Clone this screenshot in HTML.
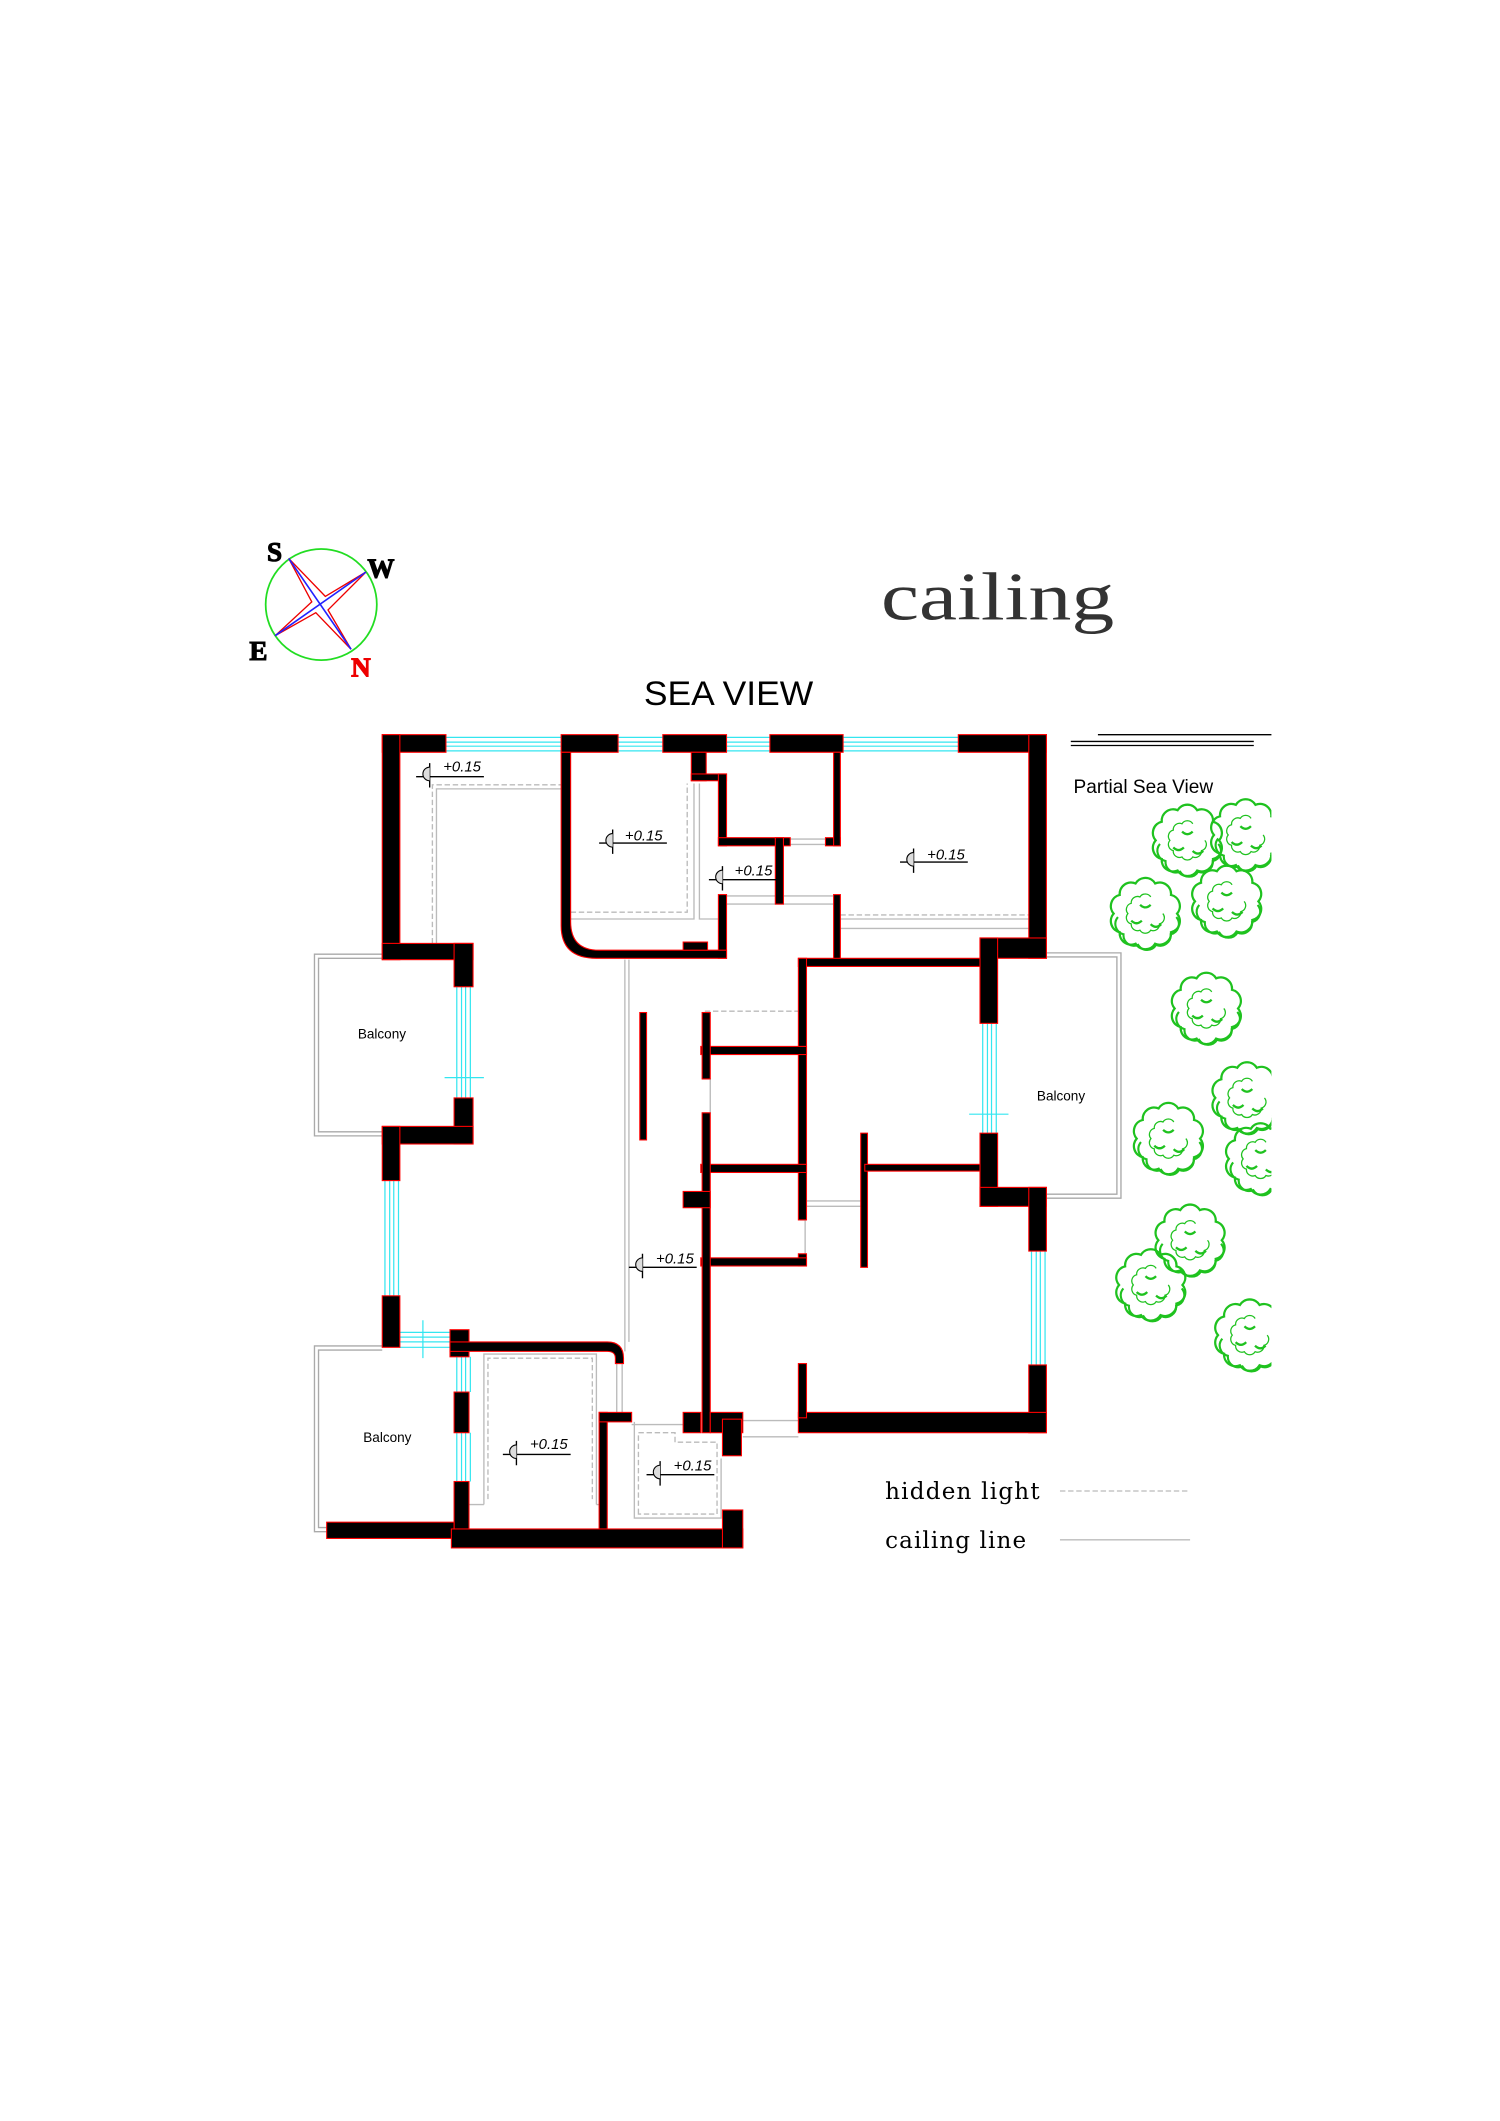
<!DOCTYPE html>
<html><head><meta charset="utf-8"><style>html,body{margin:0;padding:0;background:#fff}svg{display:block}</style></head>
<body>
<svg width="1500" height="2121" viewBox="0 0 1100 1555.4" preserveAspectRatio="none" xmlns="http://www.w3.org/2000/svg">
<defs>
<g id="tree" fill="none" stroke="#1fc21f" stroke-width="1.3">
<path d="M18,0 A6.5,6.5 0 0 1 14.56,10.58 A6.5,6.5 0 0 1 5.56,17.12 A6.5,6.5 0 0 1 -5.56,17.12 A6.5,6.5 0 0 1 -14.56,10.58 A6.5,6.5 0 0 1 -18,0 A6.5,6.5 0 0 1 -14.56,-10.58 A6.5,6.5 0 0 1 -5.56,-17.12 A6.5,6.5 0 0 1 5.56,-17.12 A6.5,6.5 0 0 1 14.56,-10.58 A6.5,6.5 0 0 1 18,0Z"/>
<path transform="translate(1,2) scale(0.92)" d="M18,0 A6.5,6.5 0 0 1 14.56,10.58 A6.5,6.5 0 0 1 5.56,17.12 A6.5,6.5 0 0 1 -5.56,17.12 A6.5,6.5 0 0 1 -14.56,10.58 A6.5,6.5 0 0 1 -18,0"/>
<path transform="scale(0.55)" d="M18,0 A6.5,6.5 0 0 1 14.56,10.58 A6.5,6.5 0 0 1 5.56,17.12 A6.5,6.5 0 0 1 -5.56,17.12 A6.5,6.5 0 0 1 -14.56,10.58 A6.5,6.5 0 0 1 -18,0 A6.5,6.5 0 0 1 -14.56,-10.58 A6.5,6.5 0 0 1 -5.56,-17.12 A6.5,6.5 0 0 1 5.56,-17.12"/>
<path d="M-8,4 q3,3 6,0 M3,6 q3,3 6,0 M-3,-5 q3,3 6,0"/>
</g>
<g id="lvl">
<path d="M0,-8 L0,10 M-10,2 L40,2" stroke="#000" stroke-width="1"/>
<path d="M0,-5 A5,5 0 0 0 0,5" stroke="#000" fill="#ddd" stroke-width="0.8"/>
</g>
<clipPath id="tc"><rect x="780" y="580" width="158" height="440"/></clipPath>
</defs>
<g transform="scale(0.994)">
<!-- compass -->
<ellipse cx="237" cy="446" rx="41" ry="41" fill="none" stroke="#22dd22" stroke-width="1.3"/>
<path d="M213,412 L240,440 L270,422 L242,450 L259,479 L233,452 L203,469 L230,444 Z" fill="none" stroke="#e00" stroke-width="1"/>
<path d="M213,412 L259,479 M270,422 L203,469" stroke="#22f" stroke-width="1.2"/>
<g font-family="Liberation Serif, serif" font-weight="bold" font-size="20" stroke-width="0.8">
<text x="197" y="414" fill="#000" stroke="#000">S</text>
<text x="271" y="426" fill="#000" stroke="#000">W</text>
<text x="184" y="487" fill="#000" stroke="#000">E</text>
<text x="259" y="499" fill="#e00" stroke="#e00">N</text>
</g>

<text x="650" y="457" font-family="Liberation Serif, serif" font-size="50" textLength="172" lengthAdjust="spacingAndGlyphs" fill="#333">cailing</text>
<text x="475" y="520" font-family="Liberation Sans, sans-serif" font-size="25" textLength="125" lengthAdjust="spacingAndGlyphs">SEA VIEW</text>

<path d="M810,542 L938,542 M790,547 L925,547 M790,550 L925,550" stroke="#000" stroke-width="1"/>
<text x="792" y="585" font-family="Liberation Sans, sans-serif" font-size="14" textLength="103" lengthAdjust="spacingAndGlyphs">Partial Sea View</text>

<!-- trees -->
<g clip-path="url(#tc)">
<use href="#tree" transform="translate(876,620) scale(1.3)"/>
<use href="#tree" transform="translate(919,616) scale(1.3)"/>
<use href="#tree" transform="translate(845,674) scale(1.3)"/>
<use href="#tree" transform="translate(905,665) scale(1.3)"/>
<use href="#tree" transform="translate(890,744) scale(1.3)"/>
<use href="#tree" transform="translate(920,810) scale(1.3)"/>
<use href="#tree" transform="translate(862,840) scale(1.3)"/>
<use href="#tree" transform="translate(930,855) scale(1.3)"/>
<use href="#tree" transform="translate(878,915) scale(1.3)"/>
<use href="#tree" transform="translate(849,948) scale(1.3)"/>
<use href="#tree" transform="translate(922,985) scale(1.3)"/>
</g>

<!-- balconies -->
<g fill="none" stroke="#aaa" stroke-width="1">
<path d="M282,704 L232,704 L232,838 L282,838 M282,707 L235,707 L235,835 L282,835"/>
<path d="M282,993 L232,993 L232,1130 L241,1130 M282,996 L235,996 L235,1127 L241,1127"/>
<path d="M772,703 L827,703 L827,884 L772,884 M772,706 L824,706 L824,881 L772,881"/>
</g>
<g font-family="Liberation Sans, sans-serif" font-size="10">
<text x="264" y="766">Balcony</text>
<text x="268" y="1064">Balcony</text>
<text x="765" y="812">Balcony</text>
</g>

<!-- ceiling gray lines -->
<g fill="none" stroke="#bbb" stroke-width="1">
<path d="M322,696 L322,582 L414,582" />
<path d="M319,696 L319,579 L414,579" stroke-dasharray="4,2"/>
<path d="M421,673 L507,673 L507,578" stroke-dasharray="4,2"/>
<path d="M421,678 L512,678 L512,578 M516,578 L516,678 L530,678"/>
<path d="M620,678 L759,678 M620,685 L759,685"/>
<path d="M620,675 L759,675" stroke-dasharray="4,2"/>
<path d="M536,661 L615,661 M536,667 L615,667 M583,619 L609,619 M583,623 L609,623"/>
<path d="M461,708 L461,997 M464,708 L464,990"/>
<path d="M520,746 L589,746" stroke-dasharray="4,2"/>
<path d="M518,796 L524,796 L524,821 L518,821"/>
<path d="M594,886 L635,886 M594,890 L635,890 M590,900 L594,900 L594,925"/>
<path d="M360,1106 L360,1002 L437,1002 L437,1106" stroke-dasharray="4,2"/>
<path d="M357,1110 L357,999 L440,999 L440,1110 M346,1110 L357,1110 M440,1110 L442,1110"/>
<path d="M455,1005 L455,1042 M459,1005 L459,1042"/>
<path d="M468,1049 L468,1120 L532,1120 L532,1076 M466,1051 L504,1051"/>
<path d="M471,1117 L471,1057 L498,1057 L498,1064 L529,1064 L529,1117 Z" stroke-dasharray="4,2"/>
<path d="M548,1048 L589,1048 M548,1060 L589,1060"/>
<path d="M782,1100 L878,1100" stroke-dasharray="4,2"/>
<path d="M782,1136 L878,1136"/>
</g>

<!-- windows -->
<g stroke="#33e6f0" stroke-width="0.9" fill="none">
<path d="M329,544 H414 M329,547.5 H414 M329,550.5 H414 M329,554 H414"/>
<path d="M456,544 H489 M456,547.5 H489 M456,550.5 H489 M456,554 H489"/>
<path d="M536,544 H568 M536,547.5 H568 M536,550.5 H568 M536,554 H568"/>
<path d="M622,544 H707 M622,547.5 H707 M622,550.5 H707 M622,554 H707"/>
<path d="M284,871 V956 M287.5,871 V956 M290.5,871 V956 M294,871 V956"/>
<path d="M337,728 V810 M340.5,728 V810 M343.5,728 V810 M347,728 V810"/>
<path d="M337,1001 V1027 M340.5,1001 V1027 M343.5,1001 V1027 M347,1001 V1027"/>
<path d="M337,1057 V1093 M340.5,1057 V1093 M343.5,1057 V1093 M347,1057 V1093"/>
<path d="M725,755 V836 M728.5,755 V836 M731.5,755 V836 M735,755 V836"/>
<path d="M761,923 V1007 M764.5,923 V1007 M767.5,923 V1007 M771,923 V1007"/>
<path d="M295,983 H332 M295,986.5 H332 M295,990 H332 M295,994 H332"/>
<path d="M328,795 H357 M715,822 H744 M312,974 V1002"/>
</g>

<!-- walls -->
<g fill="#000" stroke="#f00" stroke-width="0.8">
<rect x="282" y="542" width="47" height="13"/>
<rect x="414" y="542" width="42" height="13"/>
<rect x="489" y="542" width="47" height="13"/>
<rect x="568" y="542" width="54" height="13"/>
<rect x="707" y="542" width="65" height="13"/>
<rect x="282" y="542" width="13" height="166"/>
<rect x="282" y="696" width="67" height="12"/>
<rect x="335" y="696" width="14" height="32"/>
<rect x="335" y="810" width="14" height="34"/>
<rect x="282" y="831" width="67" height="13"/>
<rect x="282" y="831" width="13" height="40"/>
<rect x="282" y="956" width="13" height="38"/>
<rect x="759" y="542" width="13" height="165"/>
<rect x="723" y="692" width="49" height="15"/>
<rect x="723" y="692" width="13" height="63"/>
<rect x="723" y="836" width="13" height="54"/>
<rect x="723" y="876" width="49" height="14"/>
<rect x="759" y="876" width="13" height="47"/>
<rect x="759" y="1007" width="13" height="50"/>
<rect x="589" y="1042" width="183" height="15"/>
<rect x="589" y="1006" width="6" height="40"/>
<rect x="510" y="555" width="11" height="21"/>
<rect x="510" y="571" width="26" height="5"/>
<rect x="530" y="571" width="6" height="53"/>
<rect x="530" y="618" width="53" height="6"/>
<rect x="609" y="618" width="11" height="6"/>
<rect x="615" y="555" width="5" height="69"/>
<rect x="572" y="618" width="6" height="49"/>
<rect x="615" y="660" width="5" height="50"/>
<rect x="530" y="660" width="6" height="47"/>
<path d="M414,555 L421,555 L421,680 Q421,701 442,701 L536,701 L536,707 L440,707 Q414,707 414,683 Z"/>
<rect x="504" y="695" width="18" height="6"/>
<rect x="589" y="707" width="134" height="6"/>
<rect x="589" y="707" width="6" height="193"/>
<rect x="589" y="925" width="6" height="9"/>
<rect x="517" y="928" width="78" height="6"/>
<rect x="517" y="772" width="78" height="6"/>
<rect x="517" y="859" width="78" height="6"/>
<rect x="518" y="747" width="6" height="49"/>
<rect x="518" y="821" width="6" height="236"/>
<rect x="504" y="879" width="20" height="12"/>
<rect x="472" y="747" width="5" height="94"/>
<rect x="635" y="836" width="5" height="99"/>
<rect x="638" y="859" width="85" height="5"/>
<rect x="332" y="981" width="14" height="20"/>
<path d="M332,990 L448,990 Q460,990 460,1002 L460,1006 L454,1006 L454,1002 Q454,997 448,997 L332,997 Z"/>
<rect x="335" y="1027" width="11" height="30"/>
<rect x="335" y="1093" width="11" height="45"/>
<rect x="241" y="1123" width="94" height="12"/>
<rect x="333" y="1128" width="215" height="14"/>
<rect x="442" y="1042" width="6" height="86"/>
<rect x="442" y="1042" width="24" height="7"/>
<rect x="504" y="1042" width="13" height="15"/>
<rect x="524" y="1042" width="24" height="15"/>
<rect x="533" y="1047" width="14" height="27"/>
<rect x="533" y="1114" width="15" height="28"/>
</g>

<!-- level markers -->
<g font-family="Liberation Sans, sans-serif" font-style="italic" font-size="11">
<use href="#lvl" transform="translate(317,571)"/><text x="327" y="569">+0.15</text>
<use href="#lvl" transform="translate(452,620)"/><text x="461" y="620">+0.15</text>
<use href="#lvl" transform="translate(533,647)"/><text x="542" y="646">+0.15</text>
<use href="#lvl" transform="translate(674,634)"/><text x="684" y="634">+0.15</text>
<use href="#lvl" transform="translate(474,933)"/><text x="484" y="932">+0.15</text>
<use href="#lvl" transform="translate(381,1071)"/><text x="391" y="1069">+0.15</text>
<use href="#lvl" transform="translate(487,1086)"/><text x="497" y="1085">+0.15</text>
</g>

<g font-family="DejaVu Serif, Liberation Serif, serif" font-size="17">
<text x="653" y="1106" textLength="114" lengthAdjust="spacing">hidden light</text>
<text x="653" y="1142" textLength="104" lengthAdjust="spacing">cailing line</text>
</g>
</g>
</svg>
</body></html>
